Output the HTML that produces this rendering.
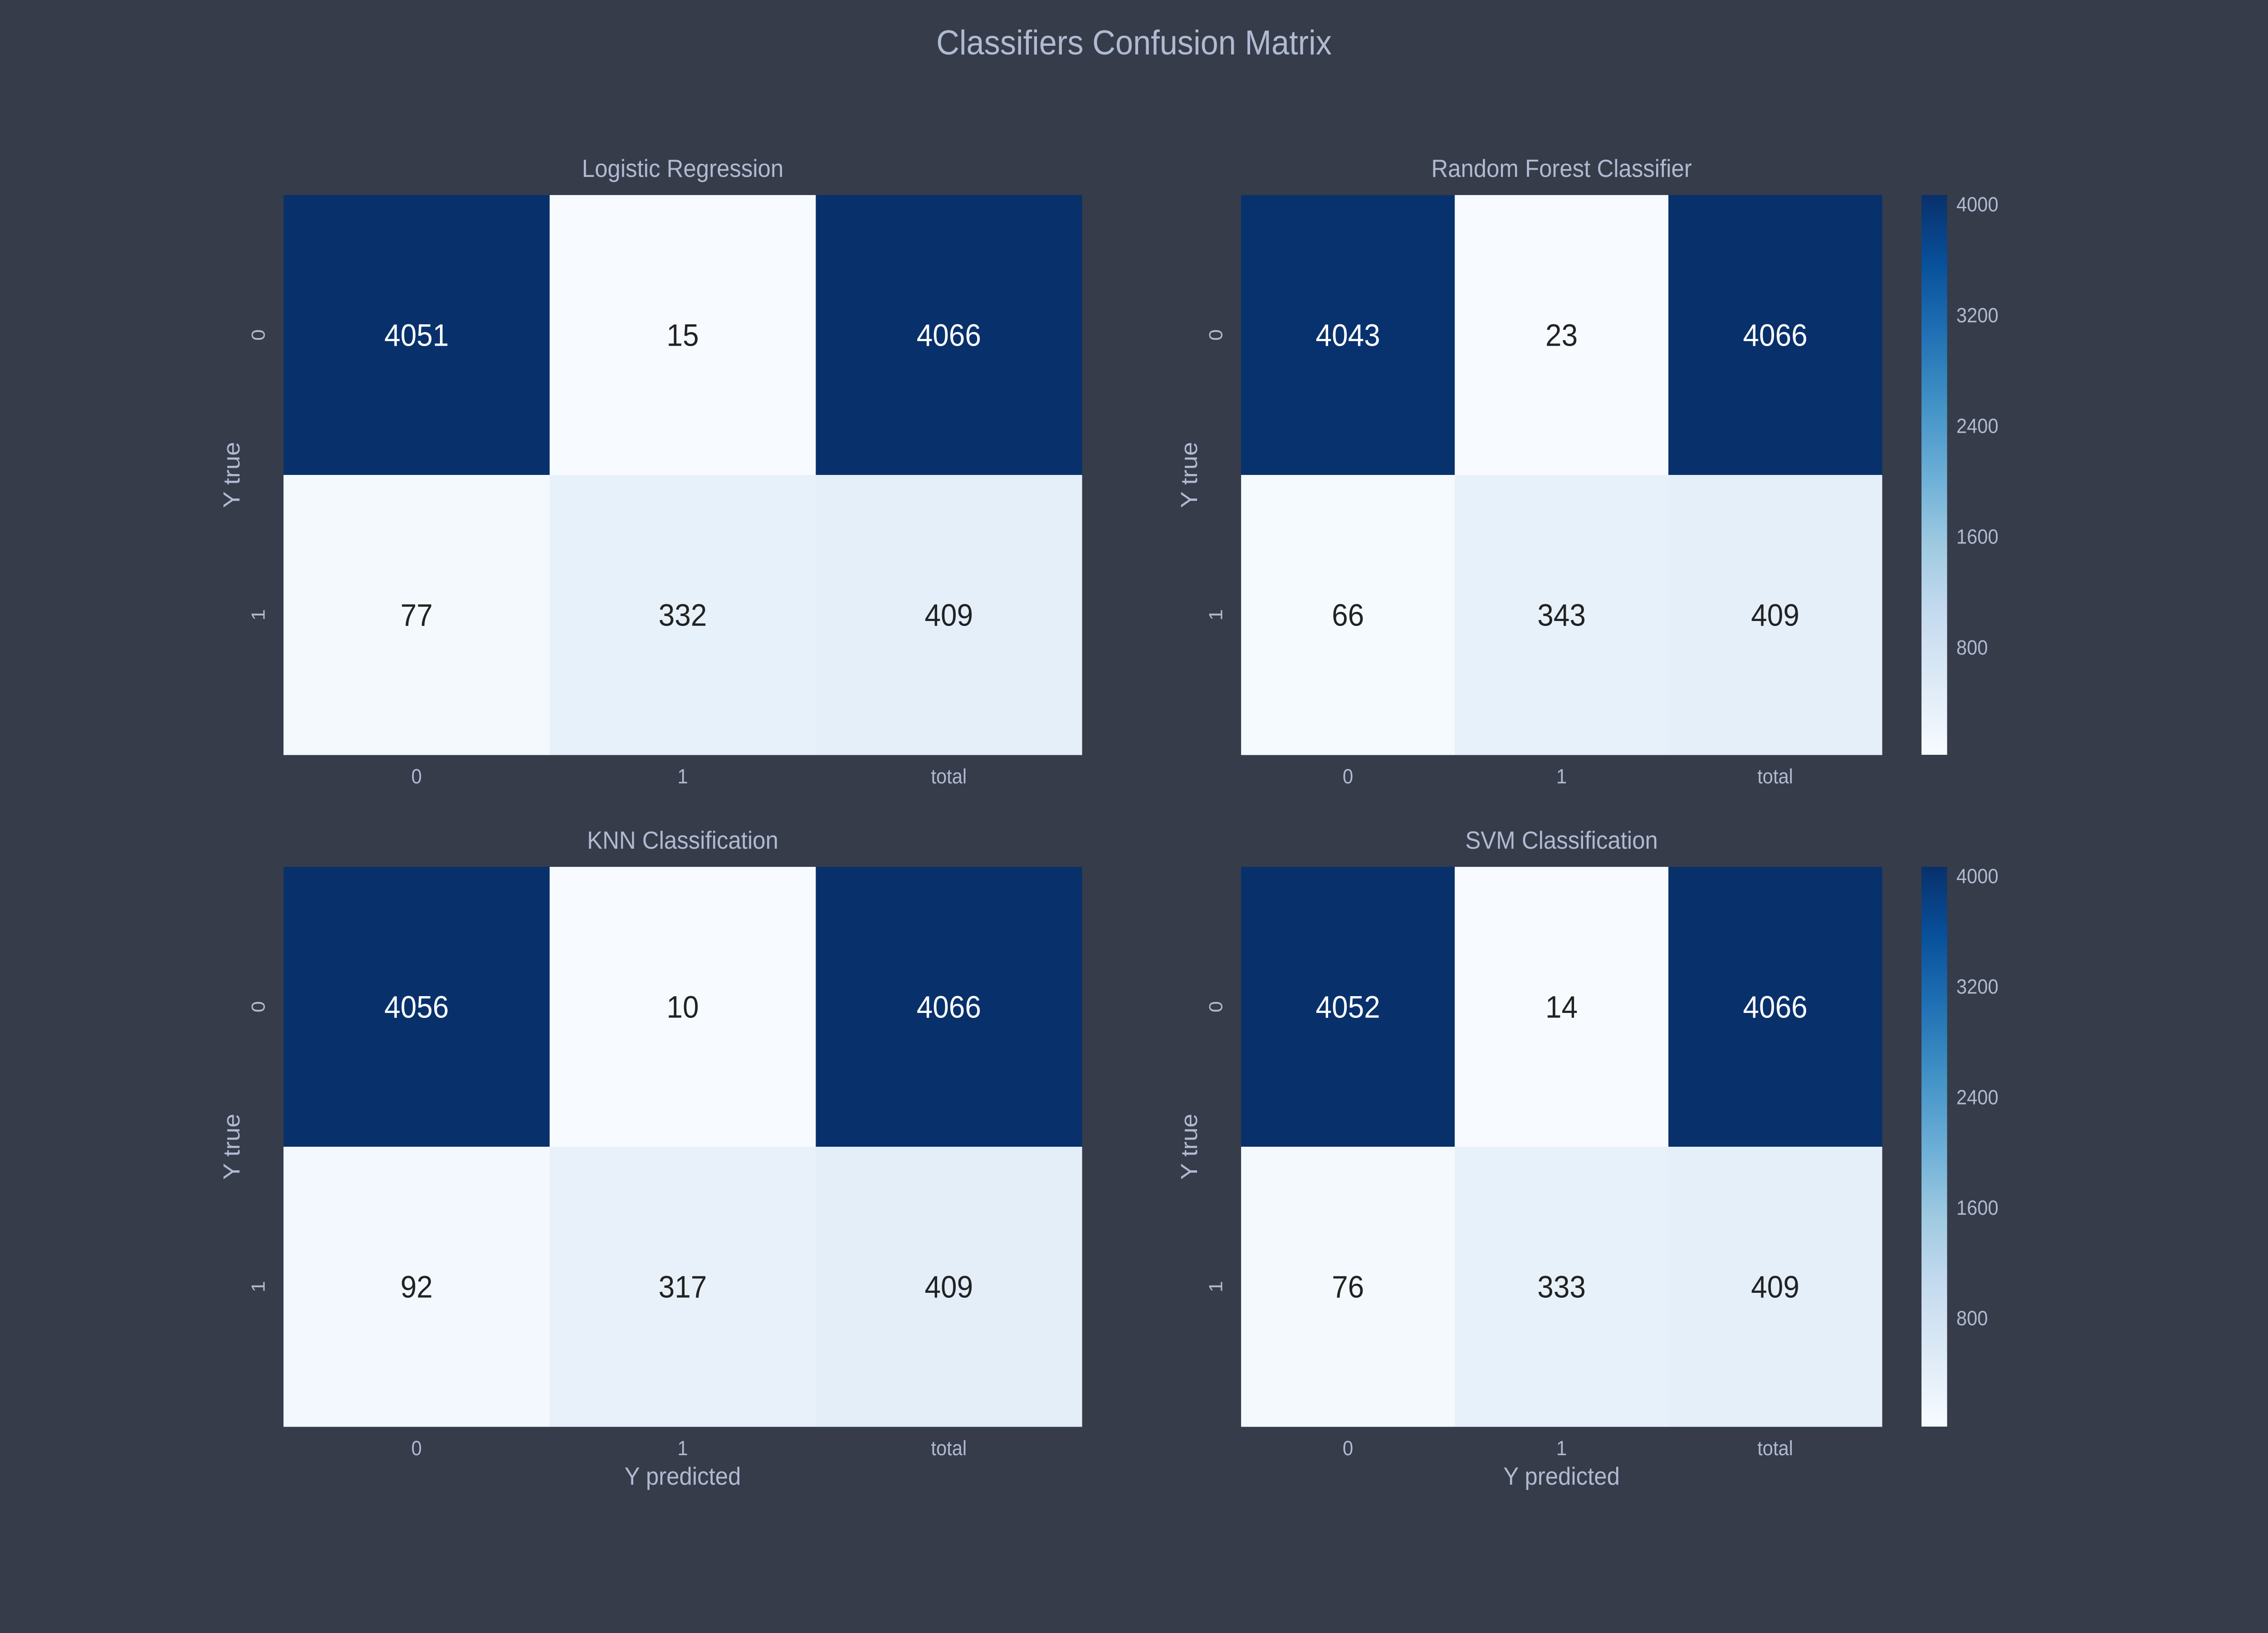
<!DOCTYPE html>
<html><head><meta charset="utf-8">
<style>
html,body{margin:0;padding:0;background:#363c4a;width:100%;height:100%;overflow:hidden;}
svg{display:block;font-family:"Liberation Sans",sans-serif;width:100vw;height:100vh;}
</style></head>
<body>
<svg id="chart" viewBox="0 0 5400 3600" preserveAspectRatio="none">
<rect x="0" y="0" width="5400" height="3600" fill="#363c4a"/>
<text x="2700" y="120" text-anchor="middle" font-size="76" fill="#b0bad0">Classifiers Confusion Matrix</text>
<defs>
<linearGradient id="blues" x1="0" y1="1" x2="0" y2="0">
<stop offset="0" stop-color="rgb(247,251,255)"/><stop offset="0.125" stop-color="rgb(222,235,247)"/>
<stop offset="0.25" stop-color="rgb(198,219,239)"/><stop offset="0.375" stop-color="rgb(158,202,225)"/>
<stop offset="0.5" stop-color="rgb(107,174,214)"/><stop offset="0.625" stop-color="rgb(66,146,198)"/>
<stop offset="0.75" stop-color="rgb(33,113,181)"/><stop offset="0.875" stop-color="rgb(8,81,156)"/>
<stop offset="1" stop-color="rgb(8,48,107)"/>
</linearGradient>
</defs>
<g id="plots"></g>
</svg>
<script>
const xCategories = ['0','1','total'];
const yCategories = ['0','1'];
const plotTitles = ['Logistic Regression','Random Forest Classifier','KNN Classification','SVM Classification'];
const lrValues = [[4051,15,4066],[77,332,409]];
const rfValues = [[4043,23,4066],[66,343,409]];
const knnValues = [[4056,10,4066],[92,317,409]];
const svmValues = [[4052,14,4066],[76,333,409]];
const colorbarTicks = [800,1600,2400,3200,4000];

const allValues = [lrValues, rfValues, knnValues, svmValues];
const panels = [
  {x0:675,x1:2576,y0:430,y1:1664,cb:false,xlabel:false},
  {x0:2955,x1:4481,y0:430,y1:1664,cb:true,xlabel:false},
  {x0:675,x1:2576,y0:1911,y1:3145,cb:false,xlabel:true},
  {x0:2955,x1:4481,y0:1911,y1:3145,cb:true,xlabel:true}
];
const stops=[[247,251,255],[222,235,247],[198,219,239],[158,202,225],[107,174,214],[66,146,198],[33,113,181],[8,81,156],[8,48,107]];
function blues(t){t=Math.max(0,Math.min(1,t));const p=t*8;const i=Math.min(7,Math.floor(p));const f=p-i;
  const a=stops[i],b=stops[i+1];return 'rgb('+a.map((v,k)=>Math.round(v+(b[k]-v)*f)).join(',')+')';}
const NS='http://www.w3.org/2000/svg';
const root=document.getElementById('plots');
function mk(tag,attrs,parent){const e=document.createElementNS(NS,tag);for(const k in attrs)e.setAttribute(k,attrs[k]);(parent||root).appendChild(e);return e;}
const lbl='#b0bad0';
panels.forEach((p,pi)=>{
  const vals=allValues[pi];
  const flat=vals.flat();const zmin=Math.min(...flat),zmax=Math.max(...flat);
  const g=mk('g',{});
  
  
  const cw=(p.x1-p.x0)/xCategories.length, ch=(p.y1-p.y0)/yCategories.length;
  const xScale=i=>p.x0+cw*i, yScale=j=>p.y0+ch*j;
  const t=mk('text',{x:(p.x0+p.x1)/2,y:p.y0-40,'text-anchor':'middle','font-size':55,fill:lbl},g);
  t.textContent=plotTitles[pi];
  
  
  yCategories.forEach((yc,j)=>{
    xCategories.forEach((xc,i)=>{
      const v=vals[j][i];const tt=(v-zmin)/(zmax-zmin);
      const r=mk('rect',{x:xScale(i),y:yScale(j),width:cw+0.5,height:ch+0.5,fill:blues(tt)},g);
      
      
      const tx=mk('text',{x:xScale(i)+cw/2,y:yScale(j)+ch/2+24,'text-anchor':'middle','font-size':69,fill:tt>0.5?'#ffffff':'#222222'},g);
      tx.textContent=v;
      
      
    });
    const yt=mk('text',{x:0,y:0,'text-anchor':'middle','font-size':45,fill:lbl,transform:'translate('+(p.x0-45)+','+(yScale(j)+ch/2)+') rotate(-90)'},g);
    yt.textContent=yc;
    
    
  });
  xCategories.forEach((xc,i)=>{
    const xt=mk('text',{x:xScale(i)+cw/2,y:p.y1+63,'text-anchor':'middle','font-size':45,fill:lbl},g);
    xt.textContent=xc;
    
    
  });
  const ya=mk('text',{x:0,y:0,'text-anchor':'middle','font-size':55,fill:lbl,transform:'translate('+(p.x0-105)+','+((p.y0+p.y1)/2)+') rotate(-90)'},g);
  ya.textContent='Y true';
  
  
  if(p.xlabel){
    const xa=mk('text',{x:(p.x0+p.x1)/2,y:p.y1+128,'text-anchor':'middle','font-size':55,fill:lbl},g);
    xa.textContent='Y predicted';
    
    
  }
  if(p.cb){
    const cx=4575,cwid=61;
    const cb=mk('rect',{x:cx,y:p.y0,width:cwid,height:p.y1-p.y0,fill:'url(#blues)'},g);
    
    
    colorbarTicks.forEach(tv=>{
      const yy=p.y1-(tv-zmin)/(zmax-zmin)*(p.y1-p.y0);
      const ct=mk('text',{x:cx+cwid+22,y:yy+16,'font-size':45,fill:lbl},g);
      ct.textContent=tv;
      
      
    });
  }
});
</script>
</body></html>
